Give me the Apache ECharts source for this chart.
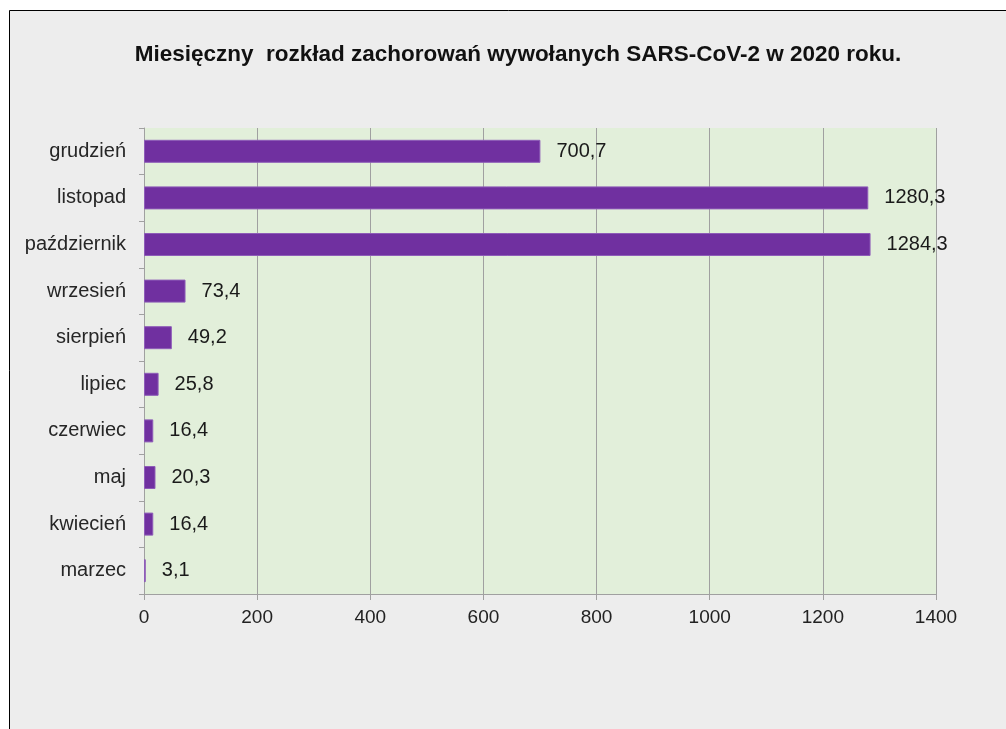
<!DOCTYPE html>
<html>
<head>
<meta charset="utf-8">
<script src="https://cdn.jsdelivr.net/npm/echarts@6/dist/echarts.min.js"></script>
<style>
html,body{margin:0;padding:0;background:#fff;}
#c{width:1006px;height:729px;}
</style>
</head>
<body>
<div id="c"></div>
<script>
const titleText = 'Miesięczny  rozkład zachorowań wywołanych SARS-CoV-2 w 2020 roku.';
const months = ['marzec','kwiecień','maj','czerwiec','lipiec','sierpień','wrzesień','październik','listopad','grudzień'];
const cases = [3.1, 16.4, 20.3, 16.4, 25.8, 49.2, 73.4, 1284.3, 1280.3, 700.7];
const xTicks = [0, 200, 400, 600, 800, 1000, 1200, 1400];

const chart = echarts.init(document.getElementById('c'), null, {renderer:'canvas'});
chart.setOption({
  backgroundColor: '#ffffff',
  animation: false,
  graphic: [{
    type: 'rect', z: -10,
    shape: {x: 9.5, y: 10.5, width: 1100, height: 800},
    style: {fill: '#EDEDED', stroke: '#000', lineWidth: 1}
  }],
  title: {
    text: titleText,
    left: 513, top: 38, textAlign: 'center',
    textStyle: {fontFamily: 'Liberation Sans, Arial', fontSize: 22.5, fontWeight: 'bold', color: '#111'}
  },
  grid: {
    left: 144, top: 128, width: 792, height: 466,
    show: true, backgroundColor: '#E2EFDA', borderWidth: 0
  },
  xAxis: {
    type: 'value', min: xTicks[0], max: xTicks[xTicks.length-1], interval: 200,
    axisLine: {show: true, lineStyle: {color: '#A0A0A0', width: 1}},
    axisTick: {show: true, length: 6, lineStyle: {color: '#A0A0A0'}},
    splitLine: {show: true, lineStyle: {color: '#A0A0A0', width: 1}},
    axisLabel: {margin: 14, fontFamily: 'Liberation Sans, Arial', fontSize: 19, color: '#222',
      formatter: v => String(v)}
  },
  yAxis: {
    type: 'category', data: months,
    axisLine: {show: true, lineStyle: {color: '#A0A0A0', width: 1}},
    axisTick: {show: true, length: 5, lineStyle: {color: '#A0A0A0'}},
    splitLine: {show: false},
    axisLabel: {margin: 18, fontFamily: 'Liberation Sans, Arial', fontSize: 20, color: '#262626'}
  },
  series: [{
    type: 'bar', data: cases, barWidth: 23,
    itemStyle: {color: '#7030A0', borderColor: '#8E5CB8', borderWidth: 1},
    label: {
      show: true, position: 'right', distance: 16,
      fontFamily: 'Liberation Sans, Arial', fontSize: 20, color: '#1a1a1a',
      formatter: p => String(p.value).replace('.', ',')
    }
  }]
});
</script>
</body>
</html>
